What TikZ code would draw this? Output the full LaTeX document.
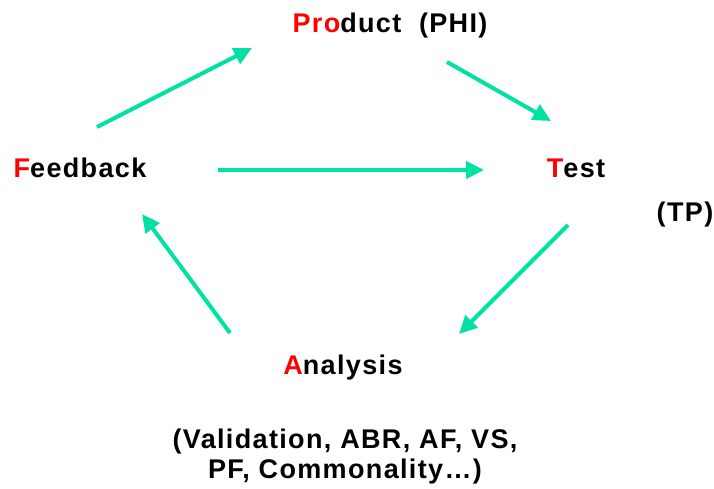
\documentclass[tikz,border=0pt]{standalone}
\usepackage{fontspec}
\setmainfont[LetterSpace=5]{Liberation Sans}
\usetikzlibrary{arrows.meta}
\definecolor{arrowteal}{RGB}{0,226,164}
\definecolor{letterred}{RGB}{255,0,0}
\begin{document}
\begin{tikzpicture}[x=1pt,y=-1pt,
  lbl/.style={font=\fontsize{27}{32}\selectfont\bfseries, inner sep=0pt, anchor=center, align=center},
  flow/.style={draw=arrowteal, line width=4pt, -{Triangle[length=18pt,width=17pt]}}]
\useasboundingbox (0,0) rectangle (714,489);
\node[lbl] (product) at (390,26) {\textcolor{letterred}{Pro}duct\ \ (PHI)};
\node[lbl] (feedback) at (80,168) {\textcolor{letterred}{F}eedback};
\node[lbl] (test) at (576,168) {\textcolor{letterred}{T}est};
\node[lbl] (tp) at (685,215) {(TP)};
\node[lbl] (analysis) at (343,368) {\textcolor{letterred}{A}nalysis};
\node[lbl, font=\fontsize{27}{30}\selectfont\bfseries] (methods) at (345,457) {(Validation, ABR, AF, VS,\\PF, Commonality\dots)};
\coordinate (a1s) at (97,127);  \coordinate (a1e) at (252,48);
\coordinate (a2s) at (447,62);  \coordinate (a2e) at (551,121);
\coordinate (a3s) at (218,170); \coordinate (a3e) at (484,170);
\coordinate (a4s) at (568,225); \coordinate (a4e) at (459,334);
\coordinate (a5s) at (230,333); \coordinate (a5e) at (142,214);
\draw[flow] (a1s) -- (a1e);
\draw[flow] (a2s) -- (a2e);
\draw[flow] (a3s) -- (a3e);
\draw[flow] (a4s) -- (a4e);
\draw[flow] (a5s) -- (a5e);
\end{tikzpicture}
\end{document}
